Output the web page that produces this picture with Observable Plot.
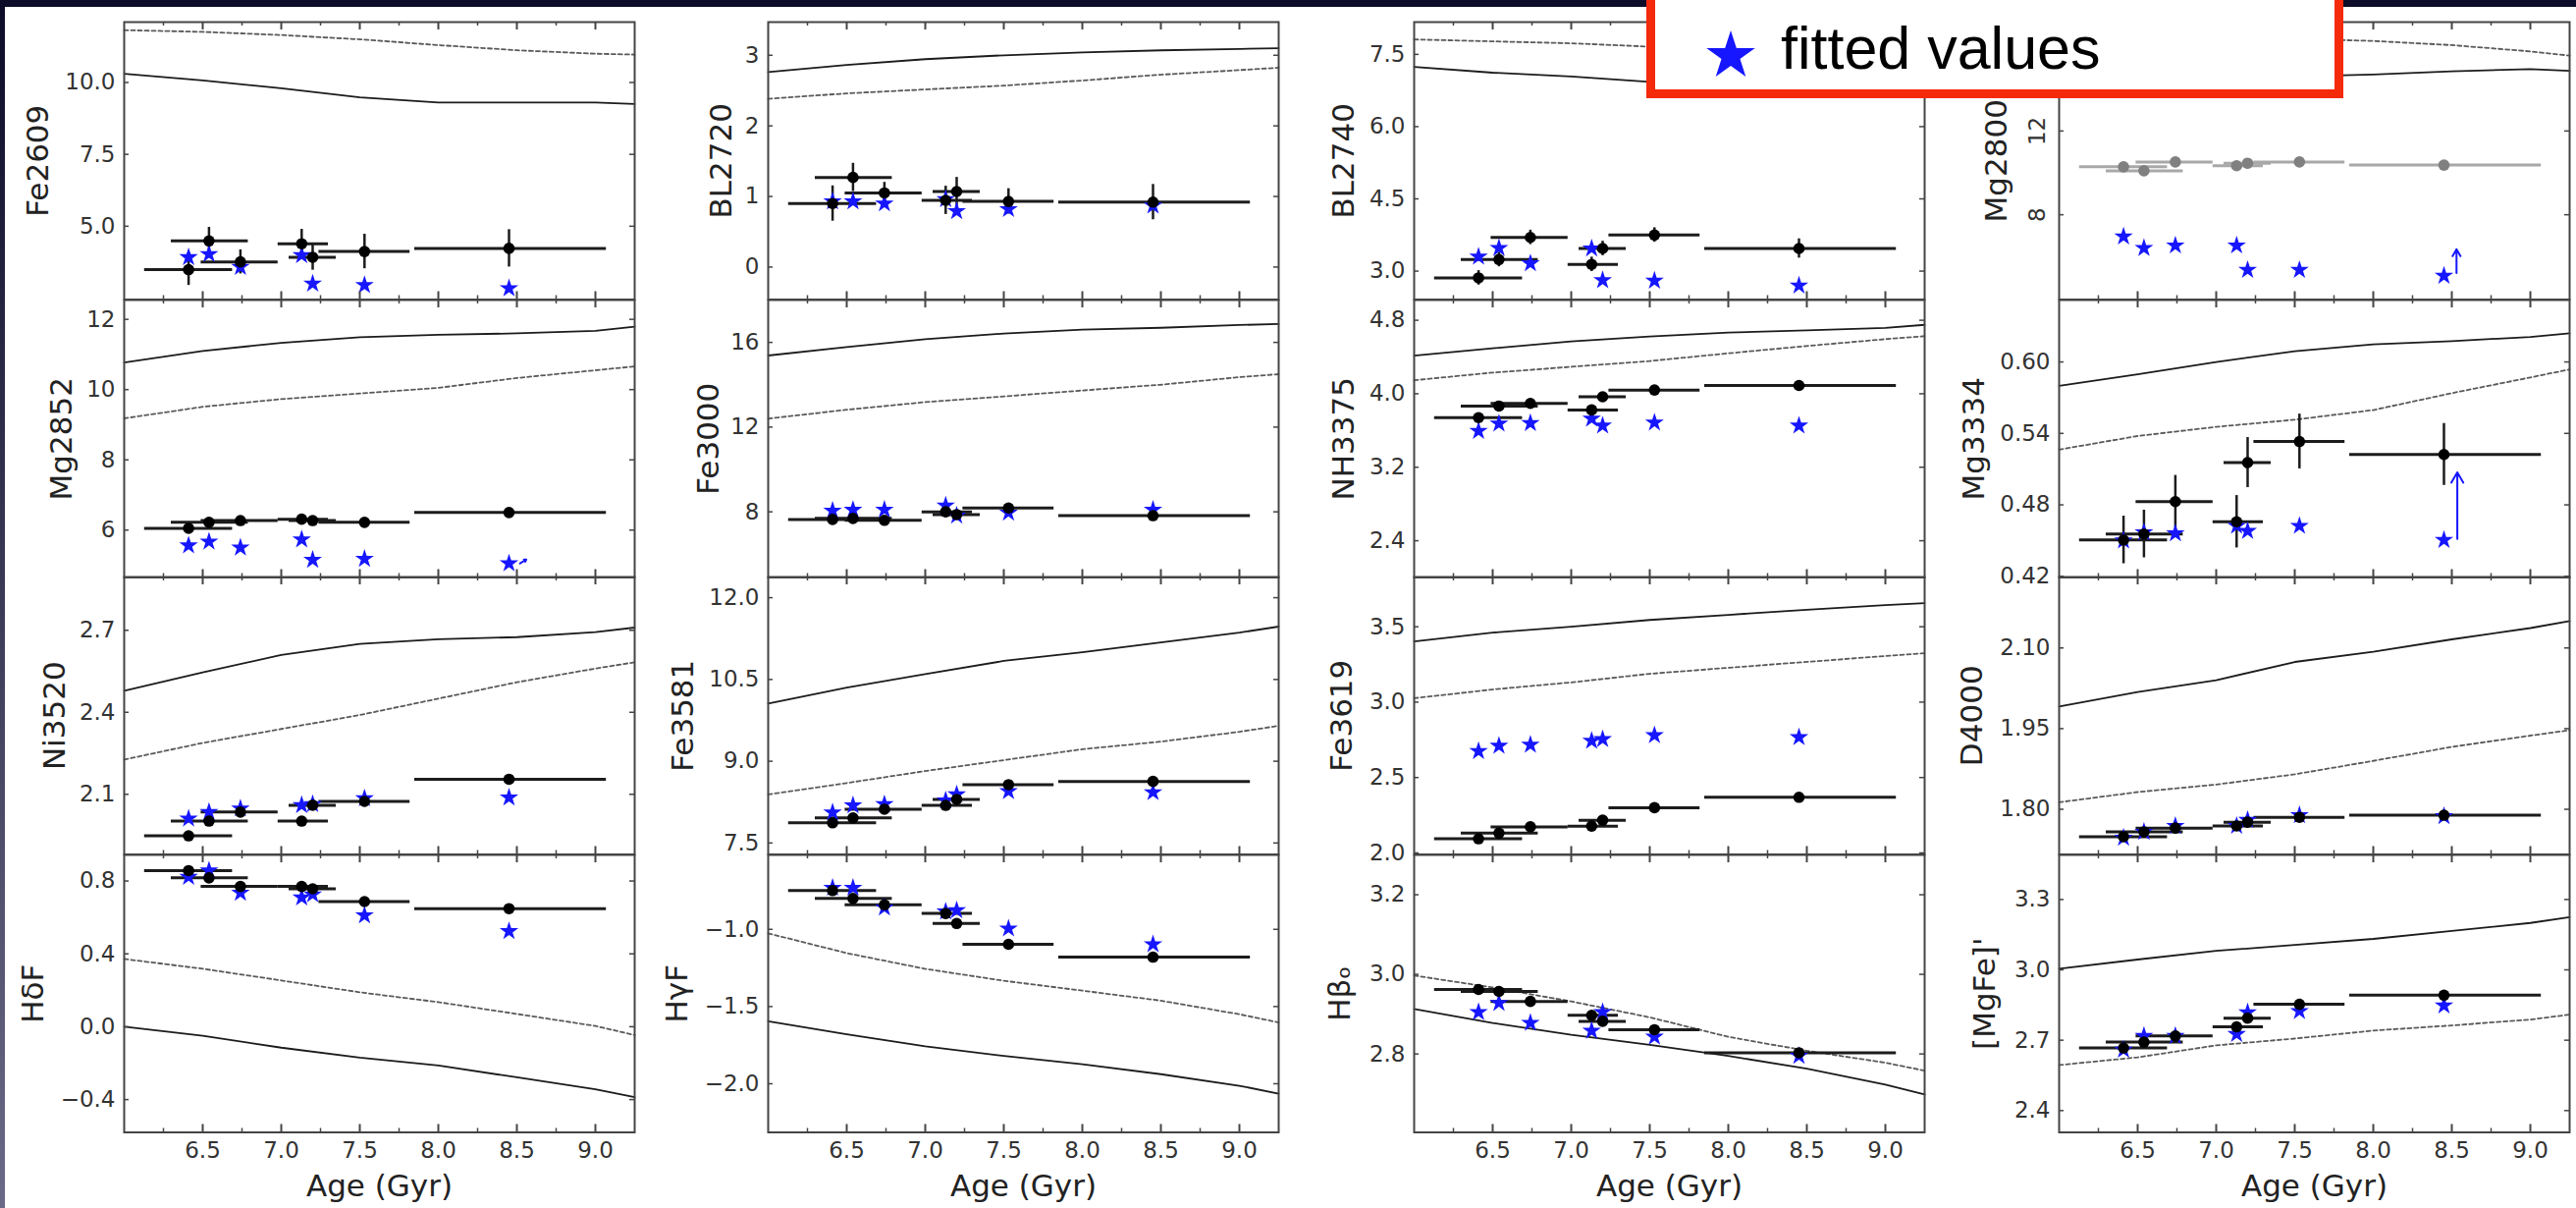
<!DOCTYPE html>
<html>
<head>
<meta charset="utf-8">
<script src="https://cdn.jsdelivr.net/npm/d3@7"></script>
<script src="https://cdn.jsdelivr.net/npm/@observablehq/plot@0.6"></script>
<style>
  html, body { margin: 0; padding: 0; }
  body { width: 2624px; height: 1230px; overflow: hidden; position: relative; background: #0c0c28; font-family: "DejaVu Sans", sans-serif; }
  #strip { position: absolute; left: 0; top: 0; width: 5px; height: 1230px; background: linear-gradient(#0c0c28, #6a6a88); }
  #sheet { position: absolute; left: 5px; top: 7px; right: 0; bottom: 0; background: #fff; }
  #chart { position: absolute; left: 0; top: 0; width: 2624px; height: 1230px; }
  .panel { position: absolute; }
  #legend { position: absolute; left: 1677px; top: -30px; width: 710px; height: 130px; box-sizing: border-box;
            border: 9px solid #f52a0a; background: #fff; z-index: 10; }
  #legend svg { position: absolute; left: 47px; top: 46px; }
  #legend .txt { position: absolute; left: 128px; top: 40px; font-family: "Liberation Sans", Arial, sans-serif;
                 font-size: 61px; line-height: 60px; color: #000; white-space: nowrap; }
</style>
</head>
<body>
<div id="strip"></div>
<div id="sheet"></div>
<div id="chart"></div>
<div id="legend"><svg width="60" height="60" id="legendStar"></svg><span class="txt">fitted values</span></div>
<script>
// ---------- shared x data ----------
const ages  = [6.41, 6.54, 6.74, 7.13, 7.20, 7.53, 8.45];
const ageLo = [6.13, 6.30, 6.49, 6.98, 7.05, 7.24, 7.85];
const ageHi = [6.69, 6.79, 6.98, 7.30, 7.35, 7.82, 9.07];
const modelAges = [6.0, 6.5, 7.0, 7.5, 8.0, 8.5, 9.0, 9.25];
const xMajorTicks = [6.5, 7.0, 7.5, 8.0, 8.5, 9.0];
const xMinorTicks = [6.25, 6.75, 7.25, 7.75, 8.25, 8.75];
const xLabel = "Age (Gyr)";

// ---------- Fe2609 ----------
const fe2609Obs = [3.49, 4.49, 3.76, 4.39, 3.92, 4.12, 4.23];
const fe2609Err = [0.55, 0.47, 0.42, 0.50, 0.45, 0.60, 0.65];
const fe2609Fit = [3.92, 4.03, 3.58, 3.99, 3.00, 2.95, 2.84];
const fe2609Solid = [10.3, 10.07, 9.8, 9.48, 9.3, 9.3, 9.3, 9.25];
const fe2609Dashed = [11.82, 11.76, 11.65, 11.5, 11.3, 11.12, 11.0, 10.97];
const fe2609Ticks = [5.0, 7.5, 10.0];

// ---------- Mg2852 ----------
const mg2852Obs = [6.05, 6.22, 6.27, 6.31, 6.27, 6.22, 6.5];
const mg2852Fit = [5.56, 5.67, 5.5, 5.73, 5.15, 5.18, 5.05];
const mg2852Solid = [10.77, 11.1, 11.33, 11.49, 11.56, 11.6, 11.67, 11.79];
const mg2852Dashed = [9.18, 9.51, 9.73, 9.89, 10.05, 10.33, 10.55, 10.66];
const mg2852Ticks = [6, 8, 10, 12];
const mg2852Arrow = [{x1: 8.52, y1: 5.05, x2: 8.56, y2: 5.16}];

// ---------- Ni3520 ----------
const ni3520Obs = [1.948, 2.002, 2.035, 2.002, 2.06, 2.074, 2.155];
const ni3520Fit = [2.011, 2.035, 2.048, 2.06, 2.064, 2.085, 2.088];
const ni3520Solid = [2.479, 2.546, 2.61, 2.65, 2.667, 2.675, 2.693, 2.71];
const ni3520Dashed = [2.227, 2.288, 2.339, 2.39, 2.45, 2.51, 2.56, 2.583];
const ni3520Ticks = [2.1, 2.4, 2.7];

// ---------- HdF ----------
const hdfObs = [0.857, 0.817, 0.77, 0.77, 0.757, 0.687, 0.648];
const hdfFit = [0.822, 0.857, 0.735, 0.709, 0.726, 0.611, 0.524];
const hdfSolid = [0.0, -0.05, -0.115, -0.17, -0.213, -0.278, -0.343, -0.387];
const hdfDashed = [0.372, 0.318, 0.254, 0.189, 0.135, 0.07, 0.004, -0.046];
const hdfTicks = [-0.4, 0.0, 0.4, 0.8];

// ---------- BL2720 ----------
const bl2720Obs = [0.9, 1.27, 1.05, 0.945, 1.07, 0.93, 0.92];
const bl2720Err = [0.25, 0.2, 0.15, 0.2, 0.2, 0.18, 0.25];
const bl2720Fit = [0.93, 0.93, 0.9, 0.96, 0.79, 0.82, 0.87];
const bl2720Solid = [2.763, 2.862, 2.945, 3.0, 3.04, 3.07, 3.09, 3.1];
const bl2720Dashed = [2.384, 2.46, 2.516, 2.57, 2.643, 2.725, 2.79, 2.824];
const bl2720Ticks = [0, 1, 2, 3];

// ---------- Fe3000 ----------
const fe3000Obs = [7.64, 7.69, 7.6, 8.0, 7.87, 8.18, 7.82];
const fe3000Fit = [8.05, 8.09, 8.1, 8.29, 7.82, 7.96, 8.1];
const fe3000Solid = [15.38, 15.78, 16.15, 16.42, 16.6, 16.69, 16.82, 16.87];
const fe3000Dashed = [12.4, 12.82, 13.18, 13.45, 13.73, 14.0, 14.36, 14.5];
const fe3000Ticks = [8, 12, 16];

// ---------- Fe3581 ----------
const fe3581Obs = [7.87, 7.96, 8.12, 8.19, 8.3, 8.57, 8.63];
const fe3581Fit = [8.06, 8.19, 8.21, 8.28, 8.39, 8.45, 8.43];
const fe3581Solid = [10.06, 10.35, 10.6, 10.84, 11.0, 11.18, 11.36, 11.47];
const fe3581Dashed = [8.39, 8.6, 8.82, 9.02, 9.22, 9.36, 9.54, 9.65];
const fe3581Ticks = [7.5, 9.0, 10.5, 12.0];

// ---------- HgF ----------
const hgfObs = [-0.749, -0.8, -0.841, -0.897, -0.962, -1.097, -1.18];
const hgfFit = [-0.731, -0.731, -0.859, -0.885, -0.877, -0.995, -1.097];
const hgfSolid = [-1.595, -1.68, -1.758, -1.82, -1.874, -1.938, -2.013, -2.064];
const hgfDashed = [-1.026, -1.154, -1.256, -1.333, -1.397, -1.462, -1.55, -1.603];
const hgfTicks = [-2.0, -1.5, -1.0];

// ---------- BL2740 ----------
const bl2740Obs = [2.86, 3.24, 3.70, 3.14, 3.47, 3.75, 3.47];
const bl2740Err = [0.15, 0.15, 0.15, 0.15, 0.15, 0.15, 0.2];
const bl2740Fit = [3.3, 3.48, 3.16, 3.47, 2.81, 2.8, 2.7];
const bl2740Solid = [7.24, 7.12, 7.04, 6.93, 6.86, 6.82, 6.8, 6.8];
const bl2740Dashed = [7.81, 7.77, 7.73, 7.66, 7.6, 7.55, 7.5, 7.48];
const bl2740Ticks = [3.0, 4.5, 6.0, 7.5];

// ---------- NH3375 ----------
const nh3375Obs = [3.74, 3.866, 3.895, 3.824, 3.967, 4.04, 4.09];
const nh3375Fit = [3.594, 3.675, 3.68, 3.728, 3.652, 3.686, 3.652];
const nh3375Solid = [4.415, 4.495, 4.57, 4.624, 4.666, 4.69, 4.716, 4.75];
const nh3375Dashed = [4.147, 4.23, 4.293, 4.356, 4.44, 4.52, 4.594, 4.627];
const nh3375Ticks = [2.4, 3.2, 4.0, 4.8];

// ---------- Fe3619 ----------
const fe3619Obs = [2.094, 2.131, 2.173, 2.178, 2.217, 2.3, 2.369];
const fe3619Fit = [2.675, 2.71, 2.717, 2.743, 2.754, 2.78, 2.767];
const fe3619Solid = [3.403, 3.461, 3.5, 3.545, 3.579, 3.613, 3.644, 3.657];
const fe3619Dashed = [3.026, 3.084, 3.131, 3.188, 3.228, 3.267, 3.306, 3.325];
const fe3619Ticks = [2.0, 2.5, 3.0, 3.5];

// ---------- Hbeta_o ----------
const hboObs = [2.962, 2.957, 2.932, 2.897, 2.882, 2.861, 2.803];
const hboFit = [2.905, 2.928, 2.878, 2.858, 2.905, 2.843, 2.795];
const hboSolid = [2.913, 2.878, 2.848, 2.823, 2.795, 2.763, 2.723, 2.698];
const hboDashed = [2.997, 2.967, 2.932, 2.892, 2.843, 2.808, 2.778, 2.758];
const hboTicks = [2.8, 3.0, 3.2];

// ---------- Mg2800 ----------
const mg2800Obs = [10.29, 10.1, 10.52, 10.34, 10.46, 10.52, 10.37];
const mg2800Fit = [6.96, 6.41, 6.53, 6.53, 5.36, 5.36, 5.08];
const mg2800Solid = [14.3, 14.4, 14.5, 14.6, 14.7, 14.85, 14.95, 14.87];
const mg2800Dashed = [16.6, 16.55, 16.5, 16.4, 16.3, 16.1, 15.8, 15.6];
const mg2800Ticks = [8, 12];
const mg2800Arrow = [{x1: 8.53, y1: 5.22, x2: 8.53, y2: 6.35}];

// ---------- Mg3334 ----------
const mg3334Obs = [0.4505, 0.4555, 0.4827, 0.4658, 0.5155, 0.5332, 0.5223];
const mg3334Err = [0.02, 0.02, 0.022, 0.022, 0.021, 0.023, 0.026];
const mg3334Fit = [0.45, 0.4569, 0.456, 0.4623, 0.458, 0.4623, 0.4505];
const mg3334Solid = [0.58, 0.5896, 0.60, 0.609, 0.6147, 0.6175, 0.621, 0.624];
const mg3334Dashed = [0.5264, 0.5378, 0.5455, 0.5515, 0.5596, 0.5738, 0.587, 0.5937];
const mg3334Ticks = [0.42, 0.48, 0.54, 0.60];
const mg3334Arrow = [{x1: 8.535, y1: 0.4514, x2: 8.535, y2: 0.5073}];

// ---------- D4000 ----------
const d4000Obs = [1.749, 1.758, 1.765, 1.769, 1.776, 1.785, 1.789];
const d4000Fit = [1.747, 1.758, 1.769, 1.769, 1.78, 1.789, 1.787];
const d4000Solid = [1.991, 2.018, 2.04, 2.074, 2.093, 2.116, 2.137, 2.15];
const d4000Dashed = [1.813, 1.832, 1.846, 1.865, 1.89, 1.916, 1.937, 1.947];
const d4000Ticks = [1.80, 1.95, 2.10];

// ---------- [MgFe]' ----------
const mgfeObs = [2.667, 2.692, 2.718, 2.757, 2.794, 2.853, 2.892];
const mgfeFit = [2.659, 2.718, 2.718, 2.726, 2.819, 2.824, 2.848];
const mgfeSolid = [3.005, 3.044, 3.081, 3.106, 3.132, 3.166, 3.2, 3.225];
const mgfeDashed = [2.594, 2.627, 2.678, 2.707, 2.741, 2.763, 2.788, 2.809];
const mgfeTicks = [2.4, 2.7, 3.0, 3.3];

// ---------- panel assembly (layout/style separate from data) ----------
const panels = [
  {label: "Fe2609", col: 0, row: 0, domain: [2.45, 12.1], obs: fe2609Obs, err: fe2609Err, fit: fe2609Fit, solid: fe2609Solid, dashed: fe2609Dashed, ticks: fe2609Ticks, fmt: ".1f", labelDx: 87},
  {label: "Mg2852", col: 0, row: 1, domain: [4.65, 12.55], obs: mg2852Obs, fit: mg2852Fit, solid: mg2852Solid, dashed: mg2852Dashed, ticks: mg2852Ticks, fmt: "d", labelDx: 63, arrow: mg2852Arrow},
  {label: "Ni3520", col: 0, row: 2, domain: [1.88, 2.895], obs: ni3520Obs, fit: ni3520Fit, solid: ni3520Solid, dashed: ni3520Dashed, ticks: ni3520Ticks, fmt: ".1f", labelDx: 70},
  {label: "HδF", col: 0, row: 3, domain: [-0.58, 0.943], obs: hdfObs, fit: hdfFit, solid: hdfSolid, dashed: hdfDashed, ticks: hdfTicks, fmt: ".1f", labelDx: 92},
  {label: "BL2720", col: 1, row: 0, domain: [-0.46, 3.47], obs: bl2720Obs, err: bl2720Err, fit: bl2720Fit, solid: bl2720Solid, dashed: bl2720Dashed, ticks: bl2720Ticks, fmt: "d", labelDx: 47},
  {label: "Fe3000", col: 1, row: 1, domain: [4.9, 18.0], obs: fe3000Obs, fit: fe3000Fit, solid: fe3000Solid, dashed: fe3000Dashed, ticks: fe3000Ticks, fmt: "d", labelDx: 60},
  {label: "Fe3581", col: 1, row: 2, domain: [7.29, 12.38], obs: fe3581Obs, fit: fe3581Fit, solid: fe3581Solid, dashed: fe3581Dashed, ticks: fe3581Ticks, fmt: ".1f", labelDx: 86},
  {label: "HγF", col: 1, row: 3, domain: [-2.315, -0.518], obs: hgfObs, fit: hgfFit, solid: hgfSolid, dashed: hgfDashed, ticks: hgfTicks, fmt: ".1f", labelDx: 92},
  {label: "BL2740", col: 2, row: 0, domain: [2.41, 8.17], obs: bl2740Obs, err: bl2740Err, fit: bl2740Fit, solid: bl2740Solid, dashed: bl2740Dashed, ticks: bl2740Ticks, fmt: ".1f", labelDx: 71},
  {label: "NH3375", col: 2, row: 1, domain: [2.0, 5.02], obs: nh3375Obs, fit: nh3375Fit, solid: nh3375Solid, dashed: nh3375Dashed, ticks: nh3375Ticks, fmt: ".1f", labelDx: 71},
  {label: "Fe3619", col: 2, row: 2, domain: [1.99, 3.83], obs: fe3619Obs, fit: fe3619Fit, solid: fe3619Solid, dashed: fe3619Dashed, ticks: fe3619Ticks, fmt: ".1f", labelDx: 73},
  {label: "Hβₒ", col: 2, row: 3, domain: [2.603, 3.3], obs: hboObs, fit: hboFit, solid: hboSolid, dashed: hboDashed, ticks: hboTicks, fmt: ".1f", labelDx: 75},
  {label: "Mg2800", col: 3, row: 0, domain: [3.95, 17.2], obs: mg2800Obs, fit: mg2800Fit, solid: mg2800Solid, dashed: mg2800Dashed, ticks: mg2800Ticks, fmt: "d", labelDx: 63, arrow: mg2800Arrow, faded: true},
  {label: "Mg3334", col: 3, row: 1, domain: [0.419, 0.652], obs: mg3334Obs, err: mg3334Err, fit: mg3334Fit, solid: mg3334Solid, dashed: mg3334Dashed, ticks: mg3334Ticks, fmt: ".2f", labelDx: 86, arrow: mg3334Arrow},
  {label: "D4000", col: 3, row: 2, domain: [1.716, 2.232], obs: d4000Obs, fit: d4000Fit, solid: d4000Solid, dashed: d4000Dashed, ticks: d4000Ticks, fmt: ".2f", labelDx: 88},
  {label: "[MgFe]'", col: 3, row: 3, domain: [2.307, 3.49], obs: mgfeObs, fit: mgfeFit, solid: mgfeSolid, dashed: mgfeDashed, ticks: mgfeTicks, fmt: ".1f", labelDx: 75}
];

const colLeft = [126, 782, 1440, 2097];
const rowTop = [22, 304.5, 587, 869.5];
const FW = 520, FH = 282.5;
const ML = 120, MR = 14, MT = 14;
const STAR = "#1616ff", INK = "#1c1c1c", FRAME = "#444";

const chart = document.getElementById("chart");

for (const p of panels) {
  const MB = p.row === 3 ? 90 : 14;
  const obs = ages.map((a, i) => ({a, lo: ageLo[i], hi: ageHi[i], v: p.obs[i], e: p.err ? p.err[i] : 0, f: p.fit[i]}));
  const model = modelAges.map((a, i) => ({a, s: p.solid[i], d: p.dashed[i]}));
  const barColor = p.faded ? "#a8a8a8" : INK;
  const dotColor = p.faded ? "#808080" : "#000";

  const marks = [
    Plot.line(model, {x: "a", y: "d", stroke: "#5a5a5a", strokeWidth: 1.8, strokeDasharray: "4,3"}),
    Plot.line(model, {x: "a", y: "s", stroke: INK, strokeWidth: 1.8}),
    Plot.ruleY(obs, {y: "v", x1: "lo", x2: "hi", stroke: barColor, strokeWidth: 3}),
    Plot.ruleX(obs.filter(d => d.e > 0), {x: "a", y1: d => d.v - d.e, y2: d => d.v + d.e, stroke: INK, strokeWidth: 2.5}),
    Plot.dot(obs, {x: "a", y: "f", symbol: "star", r: 6, fill: STAR, stroke: "none"}),
    Plot.dot(obs, {x: "a", y: "v", r: 5.8, fill: dotColor, stroke: "none"}),
    Plot.frame({stroke: FRAME, strokeWidth: 2}),
    // inward ticks, matplotlib-style
    Plot.ruleY(p.ticks, {y: d => d, insetRight: FW - 5, stroke: FRAME, strokeWidth: 1.5}),
    Plot.ruleY(p.ticks, {y: d => d, insetLeft: FW - 5, stroke: FRAME, strokeWidth: 1.5}),
    Plot.ruleX(xMajorTicks, {x: d => d, insetTop: FH - 8, stroke: FRAME, strokeWidth: 2}),
    Plot.ruleX(xMajorTicks, {x: d => d, insetBottom: FH - 8, stroke: FRAME, strokeWidth: 2}),
    Plot.ruleX(xMinorTicks, {x: d => d, insetTop: FH - 4, stroke: FRAME, strokeWidth: 1.5}),
    Plot.ruleX(xMinorTicks, {x: d => d, insetBottom: FH - 4, stroke: FRAME, strokeWidth: 1.5}),
    Plot.text([p.label], {text: d => d, frameAnchor: "left", dx: -p.labelDx, rotate: -90, fontSize: 31,
                          textAnchor: "middle", lineAnchor: "middle", fill: "#222"})
  ];
  if (p.arrow) {
    marks.push(Plot.arrow(p.arrow, {x1: "x1", y1: "y1", x2: "x2", y2: "y2", stroke: STAR, strokeWidth: 2, headLength: 9}));
  }
  if (p.label === "Mg2800") {
    marks.push(Plot.text(p.ticks, {y: d => d, text: d => d3.format(p.fmt)(d), frameAnchor: "left", dx: -22,
                                    rotate: -90, fontSize: 23, textAnchor: "middle", lineAnchor: "middle", fill: "#333"}));
  } else {
    marks.push(Plot.axisY(p.ticks, {anchor: "left", tickSize: 0, tickPadding: 9, fontSize: 23,
                                     tickFormat: d3.format(p.fmt), label: null, fill: "#333"}));
  }
  if (p.row === 3) {
    marks.push(Plot.axisX(xMajorTicks, {anchor: "bottom", tickSize: 0, tickPadding: 10, fontSize: 23,
                                         tickFormat: d3.format(".1f"), label: null, fill: "#333"}));
    marks.push(Plot.text([xLabel], {text: d => d, frameAnchor: "bottom", dy: 55, fontSize: 31,
                                     textAnchor: "middle", lineAnchor: "middle", fill: "#222"}));
  }

  const svg = Plot.plot({
    width: FW + ML + MR,
    height: FH + MT + MB,
    marginLeft: ML, marginRight: MR, marginTop: MT, marginBottom: MB,
    x: {domain: [6.0, 9.25], axis: null},
    y: {domain: p.domain, axis: null},
    style: {background: "transparent", overflow: "visible", fontFamily: "DejaVu Sans, sans-serif", maxWidth: "none", color: "#333"},
    marks
  });
  const holder = document.createElement("div");
  holder.className = "panel";
  holder.style.left = (colLeft[p.col] - ML) + "px";
  holder.style.top = (rowTop[p.row] - MT) + "px";
  holder.appendChild(svg);
  chart.appendChild(holder);
}

// legend star symbol
d3.select("#legendStar").append("path")
  .attr("transform", "translate(30,32)")
  .attr("d", d3.symbol(d3.symbolStar, 760)())
  .attr("fill", STAR);
</script>
</body>
</html>
